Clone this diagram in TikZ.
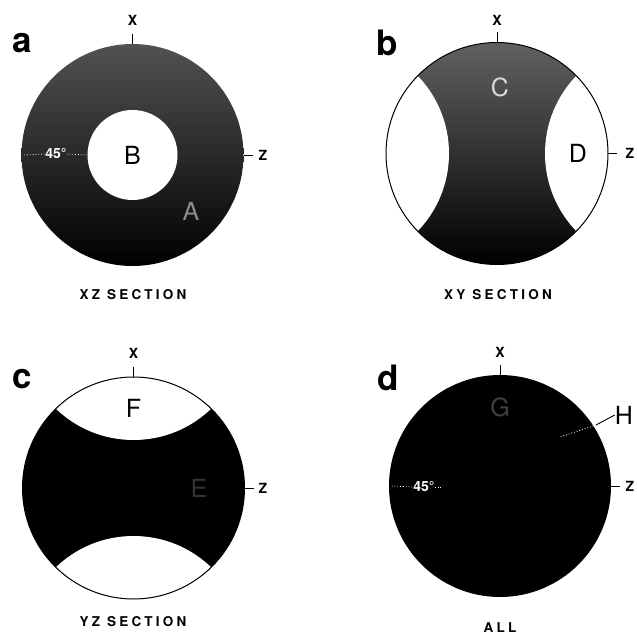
\documentclass[tikz,border=0pt]{standalone}
\usepackage{fontspec}
\setmainfont{TeX Gyre Heros}
\newfontfamily\spacedfont[LetterSpace=24]{TeX Gyre Heros}
\begin{document}
\begin{tikzpicture}[x=1pt,y=-1pt,
  panel/.style={font=\fontsize{35}{35}\selectfont\bfseries, inner sep=0pt},
  axislbl/.style={font=\fontsize{14}{14}\selectfont\bfseries, inner sep=0pt},
  sect/.style={font=\spacedfont\bfseries\fontsize{13.5}{13.5}\selectfont, inner sep=0pt},
  biglbl/.style={font=\fontsize{25}{25}\selectfont, inner sep=0pt},
  faint/.style={font=\fontsize{25}{25}\selectfont, inner sep=0pt},
  deg/.style={font=\fontsize{14}{14}\selectfont\bfseries, text=white, inner sep=0pt},
  disk/.style={circle, minimum size=222pt, inner sep=0pt},
  tick/.style={line width=0.9pt},
  rim/.style={line width=1pt},
  wdot/.style={white, dotted, line width=0.8pt}
]
\useasboundingbox (0,0) rectangle (637,636);

% ---------- panel a ----------
\node[disk, top color=black!68, middle color=black!97, bottom color=black] (ca) at (132.5,155) {};
\node[circle, minimum size=90pt, inner sep=0pt, fill=white] (ba) at (132.5,155) {};
\node[biglbl] (B) at (132.5,155) {B};
\node[faint, text=black!45] (A) at (191,211) {A};
\node[deg] (dega) at (56,154) {45°};
\draw[wdot] ([xshift=3pt]ca.west) -- (dega.west);
\draw[wdot] (dega.east) -- (ba.west);
\node[panel] (la) at (22,43) {a};
\node[axislbl] (xa) at (132.5,20) {X};
\node[axislbl] (za) at (263,155) {Z};
\draw[tick] (ca.north) -- +(0,-10);
\draw[tick] (ca.east) -- +(9,0);
\node[sect] (sa) at (133,295) {XZ SECTION};

% ---------- panel b ----------
\node[disk, top color=black!62, middle color=black!88, bottom color=black] (cb) at (497,153.5) {};
\begin{scope}
  \clip (497,153.5) circle (111);
  \fill[white] (657,153.5) circle (112);
  \fill[white] (337,153.5) circle (112);
\end{scope}
\draw[rim] (cb.center) circle (111);
\node[faint, text=black!15] (C) at (500,87) {C};
\node[biglbl] (D) at (578,153.5) {D};
\node[panel] (lb) at (387,43) {b};
\node[axislbl] (xb) at (497,20) {X};
\node[axislbl] (zb) at (630,153.5) {Z};
\draw[tick] (cb.north) -- +(0,-10);
\draw[tick] (cb.east) -- +(9,0);
\node[sect] (sb) at (498,295) {XY SECTION};

% ---------- panel c ----------
\node[disk, fill=black] (cc) at (133.5,488) {};
\begin{scope}
  \clip (133.5,488) circle (111);
  \fill[white] (133.5,328) circle (112);
  \fill[white] (133.5,648) circle (112);
\end{scope}
\draw[rim] (cc.center) circle (111);
\node[biglbl] (F) at (133.5,408) {F};
\node[faint, text=black!80] (E) at (199,488) {E};
\node[panel] (lc) at (22,379) {c};
\node[axislbl] (xc) at (133.5,353) {X};
\node[axislbl] (zc) at (263,488) {Z};
\draw[tick] (cc.north) -- +(0,-10);
\draw[tick] (cc.east) -- +(9,0);
\node[sect] (sc) at (133,622) {YZ SECTION};

% ---------- panel d ----------
\node[disk, fill=black] (cd) at (500,486) {};
\node[faint, text=black!75] (G) at (500,407) {G};
\node[deg] (degd) at (424,487) {45°};
\draw[wdot] ([xshift=3pt]cd.west) -- (degd.west);
\draw[wdot] (degd.east) -- +(7,0);
\node[biglbl] (H) at (624,415) {H};
\coordinate (hedge) at (596,425);
\coordinate (hend) at (560,437);
\draw[tick] (H.west) -- (hedge);
\draw[wdot] (hedge) -- (hend);
\node[panel] (ld) at (388,378) {d};
\node[axislbl] (xd) at (500,352) {X};
\node[axislbl] (zd) at (630,486) {Z};
\draw[tick] (cd.north) -- +(0,-10);
\draw[tick] (cd.east) -- +(9,0);
\node[sect] (sd) at (500,628) {ALL};
\end{tikzpicture}
\end{document}
